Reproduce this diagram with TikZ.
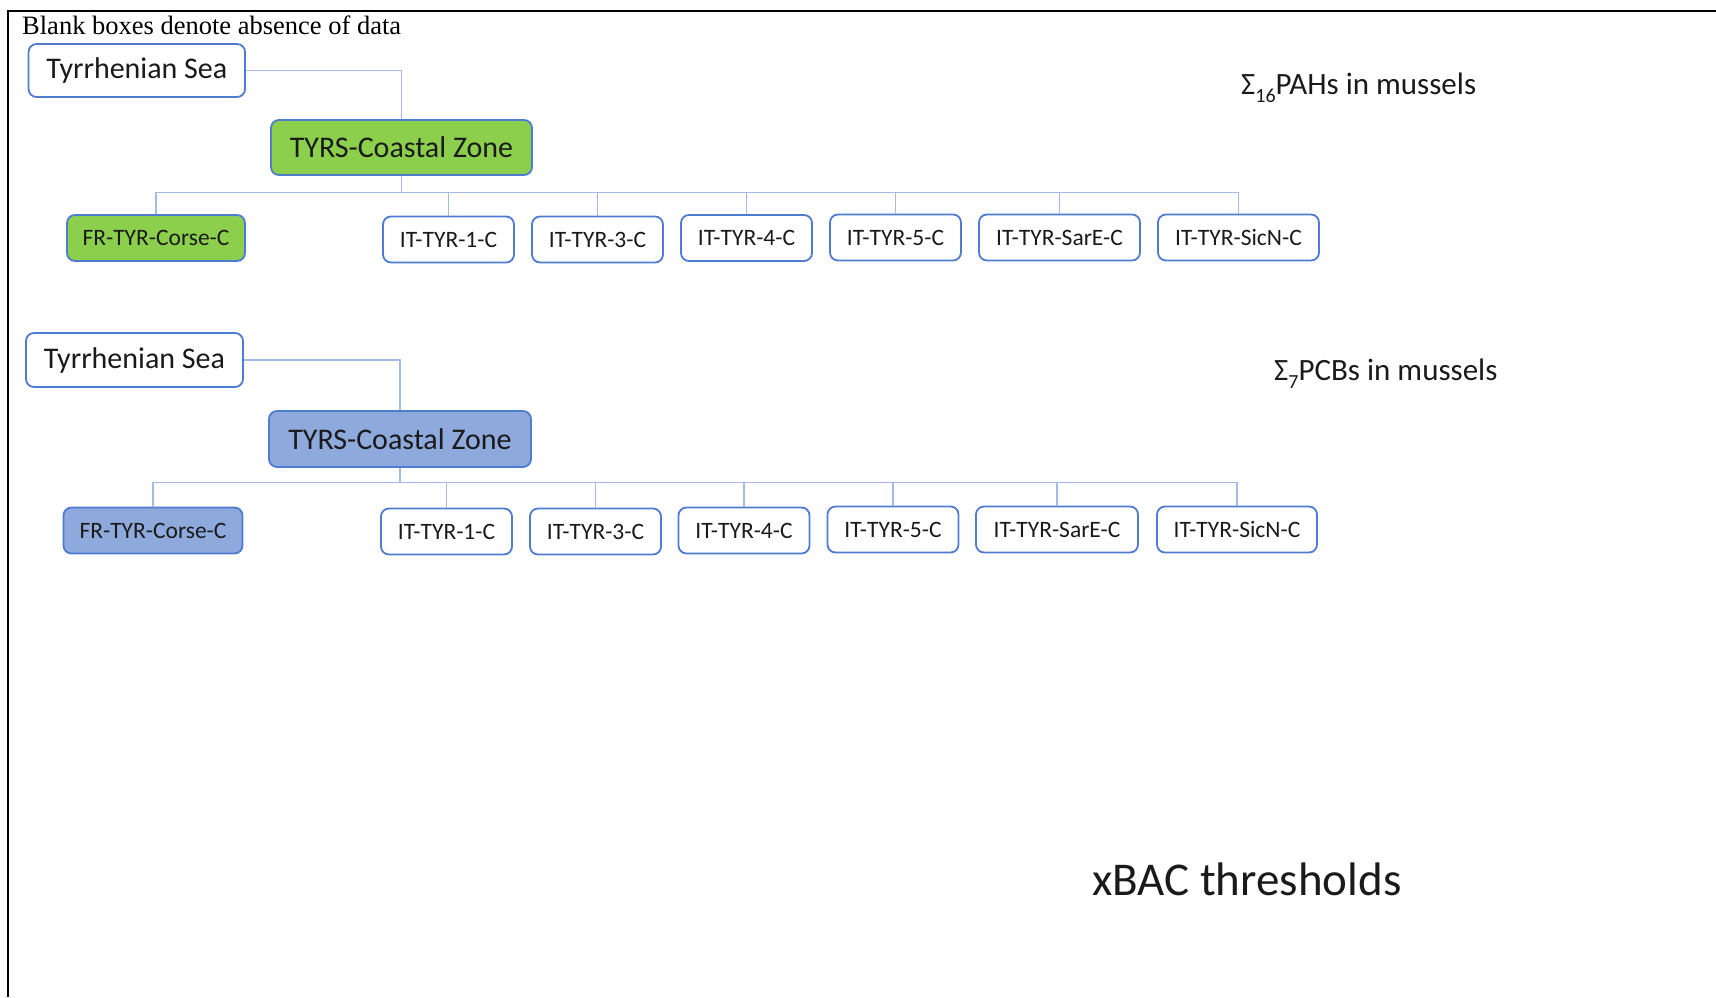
\documentclass[tikz,border=0pt]{standalone}
\usepackage{fontspec}
\setmainfont{Carlito}
\newfontfamily\titleserif{Liberation Serif}
\definecolor{bordc}{HTML}{4F7BD0}
\definecolor{connc}{HTML}{A3BBE6}
\definecolor{greenf}{HTML}{8CCF4D}
\definecolor{bluef}{HTML}{8EA9DB}
\definecolor{txt}{HTML}{1A1A1A}
\begin{document}
\begin{tikzpicture}[x=1pt,y=-1pt,
  box/.style={draw=bordc, line width=1.8pt, rounded corners=8pt, fill=white, text=txt, inner sep=0pt, align=center},
  bigbox/.style={box, font=\fontsize{30}{36}\selectfont},
  smallbox/.style={box, font=\fontsize{23.5}{28}\selectfont, minimum height=46},
  conn/.style={draw=connc, line width=1.3pt},
  lbl/.style={anchor=west, inner sep=0pt, text=txt}]
\useasboundingbox (0,0) rectangle (1716,997);
\draw[line width=2.2pt] (8,997) -- (8,11) -- (1717,11);
\node[lbl, anchor=base west, font=\titleserif\fontsize{26.5}{30}\selectfont, text=black] (title) at (22,34) {Blank boxes denote absence of data};

% ---------- top tree ----------
\node[bigbox, minimum width=216.5, minimum height=53] (ts1) at (136.8,70.5) {Tyrrhenian Sea};
\node[bigbox, fill=greenf, minimum width=261, minimum height=55] (cz1) at (401.5,147.5) {TYRS-Coastal Zone};
\coordinate (bus1) at (0,192.6);
\node[smallbox, fill=greenf, minimum width=178] (a1) at (156,238) {FR-TYR-Corse-C};
\node[smallbox, minimum width=131] (a2) at (448.5,239.5) {IT-TYR-1-C};
\node[smallbox, minimum width=131] (a3) at (597.5,239.5) {IT-TYR-3-C};
\node[smallbox, minimum width=131] (a4) at (746.5,238) {IT-TYR-4-C};
\node[smallbox, minimum width=131] (a5) at (895.5,237.5) {IT-TYR-5-C};
\node[smallbox, minimum width=161] (a6) at (1059.5,237.5) {IT-TYR-SarE-C};
\node[smallbox, minimum width=161] (a7) at (1238.5,237.5) {IT-TYR-SicN-C};
\draw[conn] (ts1.east) -| (cz1.north);
\draw[conn] (cz1.south) -- (cz1.south |- bus1);
\foreach \c in {a1,a2,a3,a4,a5,a6,a7}
  \draw[conn] (\c.north) |- (cz1.south |- bus1);
\node[lbl, font=\fontsize{31}{36}\selectfont] (pah) at (1241,87.5) {Σ\raisebox{-0.25em}{\fontsize{20}{22}\selectfont 16}PAHs in mussels};

% ---------- bottom tree ----------
\node[bigbox, minimum width=217, minimum height=54] (ts2) at (134.5,360) {Tyrrhenian Sea};
\node[bigbox, fill=bluef, minimum width=262, minimum height=56] (cz2) at (400,439) {TYRS-Coastal Zone};
\coordinate (bus2) at (0,482.6);
\node[smallbox, fill=bluef, minimum width=179] (b1) at (153,530.5) {FR-TYR-Corse-C};
\node[smallbox, minimum width=131] (b2) at (446.5,531.5) {IT-TYR-1-C};
\node[smallbox, minimum width=131] (b3) at (595.5,531.5) {IT-TYR-3-C};
\node[smallbox, minimum width=131] (b4) at (744,530.5) {IT-TYR-4-C};
\node[smallbox, minimum width=131] (b5) at (893,529.5) {IT-TYR-5-C};
\node[smallbox, minimum width=162] (b6) at (1057,529.5) {IT-TYR-SarE-C};
\node[smallbox, minimum width=160] (b7) at (1237,529.5) {IT-TYR-SicN-C};
\draw[conn] (ts2.east) -| (cz2.north);
\draw[conn] (cz2.south) -- (cz2.south |- bus2);
\foreach \c in {b1,b2,b3,b4,b5,b6,b7}
  \draw[conn] (\c.north) |- (cz2.south |- bus2);
\node[lbl, font=\fontsize{31}{36}\selectfont] (pcb) at (1274,374) {Σ\raisebox{-0.25em}{\fontsize{20}{22}\selectfont 7}PCBs in mussels};

\node[lbl, font=\fontsize{47}{54}\selectfont] (xbac) at (1092,879) {xBAC thresholds};
\end{tikzpicture}
\end{document}
